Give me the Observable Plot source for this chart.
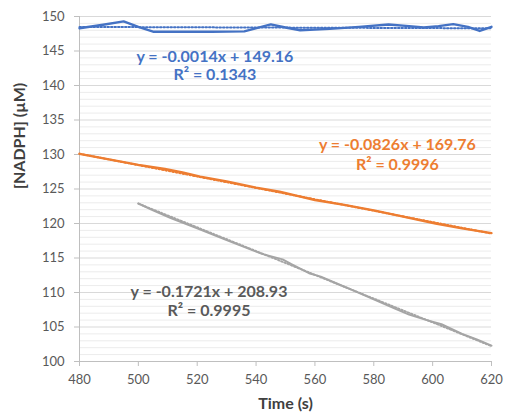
<!DOCTYPE html>
<html><head><meta charset="utf-8">
<script src="https://cdn.jsdelivr.net/npm/d3@7"></script>
<script src="https://cdn.jsdelivr.net/npm/@observablehq/plot@0.6"></script>
<style>
html,body{margin:0;padding:0;background:#fff;}
#chart{width:506px;height:419px;}
</style>
</head><body><div id="chart"></div>
<script>
// Series 1 (blue)
const blueTime = [480,488,495,500,505,515,525,536,545,550,555,565,575,585,592,597,602,607,612,616,620];
const blueVal  = [148.3,148.8,149.3,148.5,147.8,147.8,147.8,147.85,148.85,148.4,148.0,148.2,148.5,148.85,148.6,148.4,148.6,148.9,148.5,147.9,148.5];
// Series 2 (orange)
const orangeTime = [480,490,500,509,515,521,530,540,548,554,560,570,580,590,601,610,620];
const orangeVal  = [130.1,129.3,128.5,127.9,127.4,126.8,126.1,125.2,124.6,124.0,123.4,122.7,121.9,121.0,120.0,119.3,118.6];
// Series 3 (gray)
const grayTime = [500,505,511,520,530,542,549,552,558,562,568,573,580,587,592,598,603,610,615,620];
const grayVal  = [122.9,121.9,120.8,119.3,117.6,115.6,114.8,114.1,112.8,112.3,111.2,110.3,109.0,107.7,106.8,106.0,105.4,104.0,103.2,102.3];

// Linear trendline coefficients (slope, intercept), R², time span
const seriesNames = ["S1","S2","S3"];
const slopes      = [-0.0014,-0.0826,-0.1721];
const intercepts  = [149.16,169.76,208.93];
const r2Labels    = ["0.1343","0.9996","0.9995"];
const eqLabels    = ["y = -0.0014x + 149.16","y = -0.0826x + 169.76","y = -0.1721x + 208.93"];
const trendStart  = [480,480,500];
const trendEnd    = [620,620,620];
// label anchor (data coords)
const labelTime   = [526,588,524];
const labelVal    = [144.1,131.4,110.1];
const labelVal2   = [141.5,128.5,107.3];

const xTicks = [480,500,520,540,560,580,600,620];
const yTicks = [100,105,110,115,120,125,130,135,140,145,150];
const yMinor = d3.range(100,151,1).filter(v => v % 5 !== 0);

const lineColors = ["#4472C4","#ED7D31","#A5A5A5"];
const textColors = ["#4472C4","#ED7D31","#595959"];

const series = [
  blueTime.map((t,i)=>({t, v: blueVal[i]})),
  orangeTime.map((t,i)=>({t, v: orangeVal[i]})),
  grayTime.map((t,i)=>({t, v: grayVal[i]}))
];

const trendMarks = seriesNames.map((s,i) => {
  const pts = [trendStart[i], trendEnd[i]].map(t => ({t, v: slopes[i]*t + intercepts[i]}));
  return Plot.line(pts, {x: "t", y: "v", stroke: lineColors[i], strokeWidth: 2, strokeDasharray: "1.5,2"});
});
const lineMarks = series.map((d,i) => Plot.line(d, {x: "t", y: "v", stroke: lineColors[i], strokeWidth: i === 2 ? 2 : 2.4, curve: "linear", strokeLinejoin: "round"}));
const labelMarks = seriesNames.flatMap((s,i) => [
  Plot.text([eqLabels[i]], {x: labelTime[i], y: labelVal[i], text: d => d, fill: textColors[i], fontSize: 16, fontWeight: "bold"}),
  Plot.text(["R² = " + r2Labels[i]], {x: labelTime[i], y: labelVal2[i], text: d => d, fill: textColors[i], fontSize: 16, fontWeight: "bold"})
]);

const chart = Plot.plot({
  width: 506,
  height: 419,
  marginLeft: 79,
  marginRight: 15,
  marginTop: 16,
  marginBottom: 58,
  style: {fontFamily: "Lato, 'Open Sans', sans-serif", background: "#fff"},
  x: {domain: [480,620], ticks: xTicks, tickFormat: d => d},
  y: {domain: [100,150], ticks: yTicks},
  marks: [
    Plot.ruleY(yMinor, {stroke: "#ececec", strokeWidth: 1}),
    Plot.ruleY(yTicks, {stroke: "#d9d9d9", strokeWidth: 1}),
    Plot.ruleX([480], {stroke: "#bfbfbf"}),
    Plot.ruleY([100], {stroke: "#bfbfbf"}),
    Plot.axisX({ticks: xTicks, tickSize: 5, tickPadding: 8, stroke: "#bfbfbf", fill: "#595959", fontSize: 13, label: null}),
    Plot.axisY({ticks: yTicks, tickSize: 5, tickPadding: 10, stroke: "#bfbfbf", fill: "#595959", fontSize: 13, label: null}),
    ...trendMarks,
    ...lineMarks,
    ...labelMarks,
    Plot.text(["Time (s)"], {frameAnchor: "bottom", dy: 47, fontSize: 16, fontWeight: "bold", fill: "#404040"}),
    Plot.text(["[NADPH] (µM)"], {frameAnchor: "left", dx: -60, rotate: -90, fontSize: 16, fontWeight: "bold", fill: "#404040"})
  ]
});
document.getElementById("chart").appendChild(chart);
</script>
</body></html>
